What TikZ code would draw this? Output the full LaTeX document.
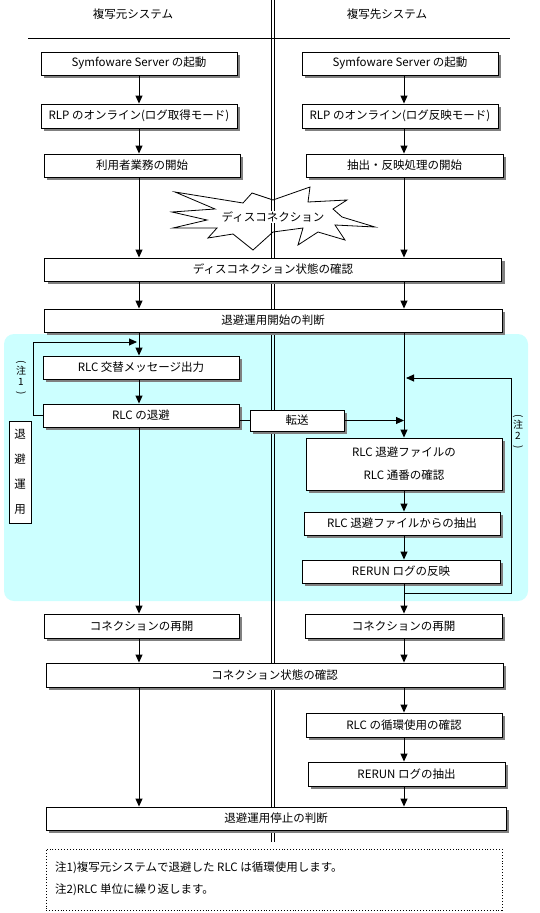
\documentclass[tikz,border=0pt]{standalone}
\usepackage{fontspec}
\usepackage{graphicx}
\setmainfont{Noto Sans CJK JP}
\usetikzlibrary{arrows.meta,shadows}
\definecolor{cyanbg}{RGB}{204,255,255}
\definecolor{shadowgray}{RGB}{128,128,128}
\newcommand{\vopen}{\rotatebox[origin=c]{-90}{(}}
\newcommand{\vclose}{\rotatebox[origin=c]{-90}{)}}
\begin{document}
\begin{tikzpicture}[x=1pt,y=-1pt,
  txt/.style={font=\fontsize{11.5}{13}\selectfont},
  box/.style={draw, fill=white, line width=0.9pt, inner sep=0pt, txt,
    drop shadow={shadow xshift=3pt, shadow yshift=-3pt, fill=shadowgray, opacity=1}},
  arr/.style={line width=0.9pt, -{Triangle[width=7pt,length=8pt]}},
  ln/.style={line width=0.9pt},
  vnote/.style={align=center, inner sep=0pt, font=\fontsize{10}{9}\selectfont}]
\useasboundingbox (0,0) rectangle (540,913);
% background of the saving operation
\fill[cyanbg, rounded corners=10pt] (4,334) rectangle (528,601);
% starburst
\draw[fill=white, line width=0.8pt] (175,192) -- (243,203) -- (252,193) -- (273,200) -- (310,187) -- (308,202) -- (347,200) -- (333,209) -- (342,217) -- (375,227) -- (335,225) -- (345,240) -- (318,232) -- (298,245) -- (303,228) -- (273,232) -- (253,250) -- (233,234) -- (208,238) -- (217,228) -- (173,228) -- (207,220) -- (172,212) -- (215,209) -- cycle;
% center double line
\draw[line width=0.8pt] (271.5,0) -- (271.5,842);
\draw[line width=0.8pt] (274.5,0) -- (274.5,842);
\node[txt, fill=white, inner sep=1pt] (st) at (273,217) {ディスコネクション};
% headings
\node[txt] (hL) at (133,14) {複写元システム};
\node[txt] (hR) at (387,14) {複写先システム};
\draw[ln] (28,38) -- (510,38);
% columns
\coordinate (LX) at (139,0);
\coordinate (RX) at (404,0);
\coordinate (xL) at (33,0);
\coordinate (xR) at (511,0);
\coordinate (jL) at (137,342);
\coordinate (jR) at (406,378);
\coordinate (lpb) at (404,593);
% boxes
\node[box, minimum width=196pt, minimum height=23pt] (a1) at (139,63.5) {Symfoware Server の起動};
\node[box, minimum width=196pt, minimum height=23pt] (b1) at (400,63.5) {Symfoware Server の起動};
\node[box, minimum width=196pt, minimum height=24pt] (a2) at (139,116) {RLP のオンライン(ログ取得モード)};
\node[box, minimum width=196pt, minimum height=24pt] (b2) at (400,116) {RLP のオンライン(ログ反映モード)};
\node[box, minimum width=196pt, minimum height=23pt] (a3) at (142,165.5) {利用者業務の開始};
\node[box, minimum width=197pt, minimum height=23pt] (b3) at (404.5,165.5) {抽出・反映処理の開始};
\node[box, minimum width=457pt, minimum height=23pt] (c1) at (273,269.5) {ディスコネクション状態の確認};
\node[box, minimum width=458pt, minimum height=23pt] (c2) at (273,320.5) {退避運用開始の判断};
\node[box, minimum width=196pt, minimum height=23pt] (a4) at (141,367.5) {RLC 交替メッセージ出力};
\node[box, minimum width=196pt, minimum height=23pt] (a5) at (141,415.5) {RLC の退避};
\node[box, minimum width=94pt, minimum height=21pt] (tr) at (297,420.5) {転送};
\node[box, minimum width=196pt, minimum height=52pt, align=center] (b4) at (404,464) {RLC 退避ファイルの\\[10pt]RLC 通番の確認};
\node[box, minimum width=196pt, minimum height=23pt] (b5) at (402,523.5) {RLC 退避ファイルからの抽出};
\node[box, minimum width=198pt, minimum height=23pt] (b6) at (401,571.5) {RERUN ログの反映};
\node[box, minimum width=195pt, minimum height=24pt] (a6) at (141.5,626) {コネクションの再開};
\node[box, minimum width=197pt, minimum height=24pt] (b7) at (403.5,626) {コネクションの再開};
\node[box, minimum width=457pt, minimum height=24pt] (c3) at (274.5,675) {コネクション状態の確認};
\node[box, minimum width=196pt, minimum height=24pt] (b8) at (404,725) {RLC の循環使用の確認};
\node[box, minimum width=197pt, minimum height=24pt] (b9) at (406.5,774) {RERUN ログの抽出};
\node[box, minimum width=460pt, minimum height=23pt] (c4) at (276,818.5) {退避運用停止の判断};
% side labels
\node[draw, fill=white, line width=0.9pt, minimum width=22pt, minimum height=102pt, inner sep=0pt, align=center, font=\fontsize{11.5}{25}\selectfont] (ty) at (20,472) {退\\避\\運\\用};
\node[vnote] (n1) at (21,378) {\vopen\\[1pt]注\\[2pt]1\\[1pt]\vclose};
\node[vnote] (n2) at (518,432) {\vopen\\[1pt]注\\[2pt]2\\[1pt]\vclose};
% notes
\node[draw, dotted, line width=0.9pt, minimum width=456pt, minimum height=61pt] (nt) at (274,879.5) {};
\node[txt, anchor=west, inner sep=0pt] (nt1) at (55,868) {注1)複写元システムで退避した RLC は循環使用します。};
\node[txt, anchor=west, inner sep=0pt] (nt2) at (55,890) {注2)RLC 単位に繰り返します。};
% arrows left column
\draw[arr] (a1.south -| LX) -- (a2.north -| LX);
\draw[arr] (a2.south -| LX) -- (a3.north -| LX);
\draw[arr] (a3.south -| LX) -- (c1.north -| LX);
\draw[arr] (c1.south -| LX) -- (c2.north -| LX);
\draw[arr] (c2.south -| LX) -- (a4.north -| LX);
\draw[arr] (a4.south -| LX) -- (a5.north -| LX);
\draw[arr] (a5.west) -- (a5.west -| xL) |- (jL);
\draw[arr] (a5.south -| LX) -- (a6.north -| LX);
\draw[arr] (a6.south -| LX) -- (c3.north -| LX);
\draw[arr] (c3.south -| LX) -- (c4.north -| LX);
\draw[ln] (tr.west -| a5.east) -- (tr.west);
\draw[arr] (tr.east) -- (tr.east -| RX);
% arrows right column
\draw[arr] (b1.south -| RX) -- (b2.north -| RX);
\draw[arr] (b2.south -| RX) -- (b3.north -| RX);
\draw[arr] (b3.south -| RX) -- (c1.north -| RX);
\draw[arr] (c1.south -| RX) -- (c2.north -| RX);
\draw[arr] (c2.south -| RX) -- (b4.north -| RX);
\draw[arr] (b4.south -| RX) -- (b5.north -| RX);
\draw[arr] (b5.south -| RX) -- (b6.north -| RX);
\draw[ln] (b6.south -| RX) -- (lpb);
\draw[arr] (lpb) -- (lpb -| xR) -- (xR |- jR) -- (jR);
\draw[arr] (lpb) -- (b7.north -| RX);
\draw[arr] (b7.south -| RX) -- (c3.north -| RX);
\draw[arr] (c3.south -| RX) -- (b8.north -| RX);
\draw[arr] (b8.south -| RX) -- (b9.north -| RX);
\draw[arr] (b9.south -| RX) -- (c4.north -| RX);
\end{tikzpicture}
\end{document}
